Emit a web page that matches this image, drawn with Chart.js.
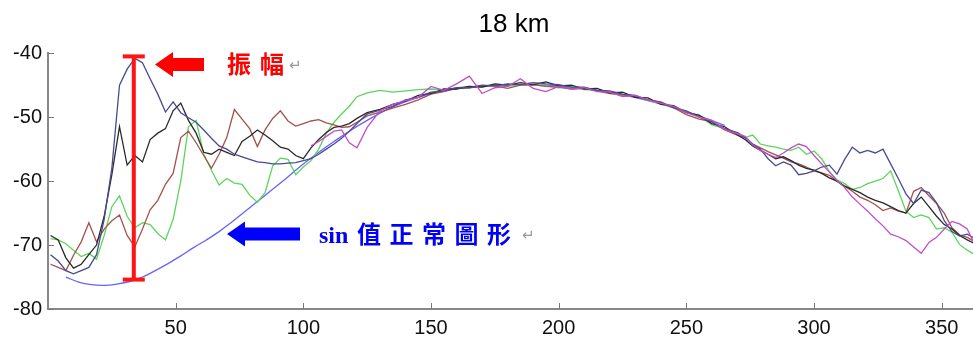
<!DOCTYPE html>
<html>
<head>
<meta charset="utf-8">
<script src="https://cdn.jsdelivr.net/npm/chart.js@4/dist/chart.umd.min.js"></script>
<style>
  html, body { margin: 0; padding: 0; background: #fff; overflow: hidden; }
  #wrap { position: relative; width: 980px; height: 338px; }
</style>
</head>
<body>
<div id="wrap"><canvas id="chart"></canvas></div>
<script>
// day of year for every sample
const days = [
  1, 4, 7, 10, 13, 16, 19, 22, 25, 28, 31, 34, 37, 40, 43, 46, 49, 52, 55, 58,
  61, 64, 67, 70, 73, 76, 79, 82, 85, 88, 91, 94, 97, 100, 103, 106, 109, 112, 115, 118, 121,
  125, 130, 135, 140, 145, 150, 155, 160, 165, 170, 175, 180, 185, 190, 195,
  200, 205, 210, 215, 220, 225, 230, 235, 240, 245, 250, 255, 260, 265, 270,
  273, 276, 279, 282, 285, 288, 291, 294, 297, 300, 303, 306, 309, 312, 315,
  318, 321, 324, 327, 330, 333, 336, 339, 342, 345, 348, 351, 354, 357, 360, 363
];

// measured levels at 18 km, one array per run
const runNavy = [
  -71.5, -72.5, -74, -74.5, -74, -73.5, -71.5, -66, -58, -45, -42.5, -40.8, -41.5, -44, -46.4, -49.2, -47.6, -49.3, -50.1, -50.8,
  -52, -53.3, -54.5, -55, -55.8, -56.2, -56.6, -57, -57.1, -57.3, -57.3, -57.2, -57.1, -56.8, -56.5, -55.8, -55, -54.2, -53.3, -52.2, -51,
  -49.5, -48.9, -48.3, -47.3, -46.9, -46.1, -45.9, -45.4, -45.4, -45, -45.1, -44.8, -44.9, -44.6, -44.8,
  -44.9, -45.3, -45.3, -45.8, -45.9, -46.4, -46.6, -47.3, -47.7, -48.5, -49, -50, -50.7, -51.8, -52.4,
  -53.2, -54.2, -55, -56.5, -57.6, -57, -57.5, -59, -58.8, -58.4, -57.8, -57.5, -58.9, -56.6, -54.7,
  -55.6, -55.2, -55.6, -55, -57.3, -59.6, -62, -63.5, -61.4, -61.8, -63.4, -66.2, -67.9, -68.6, -68.3, -69
];
const runBlack = [
  -68.5, -69.2, -72, -73.6, -73, -71.5, -70, -65.5, -59, -51.5, -57.5, -56, -57, -53.5, -52.5, -51.8, -49, -47.8, -50.5, -52.5,
  -55.5, -55.8, -55, -55.5, -56, -53.8, -53, -52, -52.8, -53.7, -54.7, -55, -56, -56.5, -54.8, -53.5, -52.4, -51.6, -51.4, -51, -50.2,
  -49.3, -48.8, -48, -47.5, -46.6, -46.3, -45.6, -45.6, -45.2, -45.3, -44.8, -45, -44.6, -44.9, -44.5,
  -45.1, -45, -45.6, -45.5, -46.2, -46.1, -46.9, -47, -48, -48.2, -49.3, -49.7, -51, -51.5, -52.8,
  -53.5, -54.5, -55.2, -55.8, -56.5, -56.2, -56.8, -57.5, -58, -58.3, -58.8, -59.5, -60, -60.8, -61.3,
  -61.8, -62.5, -63, -63.4, -64, -64.6, -65, -63.5, -62.5, -64, -65.5, -66.8, -67.5, -68.5, -69.2, -69.8
];
const runBrown = [
  -73, -73.5, -74, -71.6, -69.5, -66.5, -69.5, -67.5, -66.2, -65.3, -68.5, -70.3, -67.5, -64.5, -63, -60.5, -58.8, -53.2, -52.2, -54,
  -56, -58, -55.8, -53.2, -48.8, -50.3, -51.8, -54.6, -52, -50.2, -49, -50.6, -51.4, -51, -50.6, -50.4, -50.9, -51.2, -51.6, -51.5, -50.8,
  -49.8, -49.2, -48.6, -48, -47.3, -46.4, -46, -45.5, -45.4, -45.2, -45.1, -45.5, -45, -44.9, -45.2,
  -45.3, -45.6, -45.5, -45.9, -46.3, -46.5, -46.8, -47.3, -47.6, -48.5, -49.6, -50.3, -50.7, -52, -52.8,
  -53.2, -54.2, -54.8, -55.4, -55.9, -56.4, -57, -57.3, -57.8, -58.4, -58.7, -59.1, -60, -60.8, -61.6,
  -62.5, -63, -63.7, -64.6, -64.2, -64.7, -65, -61.6, -61, -62.3, -63.5, -65, -67.3, -68.4, -68.8, -69.5
];
const runGreen = [
  -69, -69.2, -69.8, -70.8, -71.8, -71.3, -72.2, -68.5, -64, -62.3, -65.5, -67.3, -66.5, -66.8, -68.2, -69.2, -66, -60, -51.5, -50.5,
  -55.8, -58.3, -60.6, -59.6, -60.3, -60.5, -62.2, -63.3, -61.8, -57.6, -56.4, -56.6, -59, -57.8, -56.8, -55, -52.5, -50.8, -49.5, -48.3, -46.8,
  -46.2, -45.8, -46.1, -45.9, -45.7, -45.6, -45.7, -45.4, -45.2, -45.3, -45, -45.2, -44.9, -45, -45.1,
  -45.4, -45.3, -45.7, -45.8, -46.1, -46.6, -46.7, -47.4, -47.9, -48.6, -49.2, -49.8, -51.2, -51.8, -52.5,
  -53.2, -52.8, -54.2, -54.5, -54.7, -55, -55.2, -54.7, -55.8, -55.3, -56.5, -58.5, -59.8, -60.4, -61.3,
  -61, -60.4, -60, -59.6, -58.4, -61.5, -64.7, -65.7, -65.3, -65.7, -67.5, -67.3, -68, -69.9, -70.8, -71.5
];
const runPurple = [
  null, null, null, null, null, null, null, null, null, null, null, null, null, null, null, null, null, null, null, null,
  null, null, null, null, null, null, null, null, null, null, null, null, null, null, -54.5, -53.8, -53, -52.2, -52, -54, -54.8,
  -51.6, -49, -48, -47.4, -46.9, -45.2, -45.8, -44.8, -43.6, -46.3, -45.4, -45.2, -44, -45.5, -46,
  -45.2, -45.6, -45.4, -46, -46.1, -46.8, -46.6, -47.3, -47.8, -48.3, -49.3, -50, -50.5, -51.9, -52.6,
  -53, -54.3, -55.2, -55.8, -56.3, -55.6, -54.8, -54.2, -54.6, -56, -57.3, -58.6, -59.9, -61, -62.5,
  -63.6, -64.7, -65.9, -67, -68.3, -68.7, -69.3, -70.3, -71.3, -69.6, -68.8, -67.5, -66.3, -66.7, -67.5, -70
];

// reference sine curve
const sineDays = [7, 12, 17, 22, 27, 32, 37, 42, 47, 52, 57, 62, 67, 72, 77, 82, 87, 92, 97, 102, 107, 112, 118,
  125, 135, 145, 155, 165, 175, 185, 195, 205, 215, 225, 235, 245, 255, 265];
const sineLevel = [-75, -75.8, -76.2, -76.3, -76.1, -75.7, -75, -74, -72.9, -71.7, -70.4, -69.2, -67.9, -66.4, -64.8,
  -63.2, -61.6, -60, -58.3, -56.7, -55.2, -53.8, -52.2,
  -50.5, -48.4, -46.9, -45.9, -45.3, -45, -44.9, -45, -45.3, -45.8, -46.5, -47.4, -48.5, -49.8, -51.3];

const xTicks = [50, 100, 150, 200, 250, 300, 350];
const yTicks = [-80, -70, -60, -50, -40];

// amplitude marker: day and level range
const ampDay = 33.6;
const ampRange = [-75.4, -40.5];

function pts(xv, yv) {
  return xv.map((x, i) => ({ x: x, y: yv[i] }));
}

function line(data, color, extra) {
  return Object.assign({
    data: data,
    borderColor: color,
    borderWidth: 1.3,
    pointRadius: 0,
    tension: 0,
    fill: false,
    spanGaps: false
  }, extra || {});
}

function arrow(ctx, tipX, y, tailX, color) {
  ctx.fillStyle = color;
  ctx.beginPath();
  ctx.moveTo(tipX, y);
  ctx.lineTo(tipX + 18, y - 12.5);
  ctx.lineTo(tipX + 18, y - 6.5);
  ctx.lineTo(tailX, y - 6.5);
  ctx.lineTo(tailX, y + 6.5);
  ctx.lineTo(tipX + 18, y + 6.5);
  ctx.lineTo(tipX + 18, y + 12.5);
  ctx.closePath();
  ctx.fill();
}

// inward ticks, amplitude bar, arrows and notes
const markup = {
  id: 'markup',
  afterDatasetsDraw(chart) {
    const ctx = chart.ctx;
    const xs = chart.scales.x, ys = chart.scales.y;
    ctx.save();

    ctx.strokeStyle = '#777';
    ctx.lineWidth = 1;
    ctx.beginPath();
    xTicks.forEach(v => {
      const px = Math.round(xs.getPixelForValue(v)) + 0.5;
      ctx.moveTo(px, ys.bottom);
      ctx.lineTo(px, ys.bottom - 6);
    });
    yTicks.forEach(v => {
      const py = Math.round(ys.getPixelForValue(v)) + 0.5;
      ctx.moveTo(xs.left, py);
      ctx.lineTo(xs.left + 6, py);
    });
    ctx.stroke();

    const bx = xs.getPixelForValue(ampDay);
    const top = ys.getPixelForValue(ampRange[1]);
    const bot = ys.getPixelForValue(ampRange[0]);
    ctx.fillStyle = '#ff1414';
    ctx.fillRect(bx - 2, top, 4, bot - top);
    ctx.fillRect(bx - 11, top - 2, 22, 4);
    ctx.fillRect(bx - 11, bot - 2, 22, 4);

    arrow(ctx, 155, 64.5, 204, '#ff0000');
    arrow(ctx, 227, 234, 300, '#0000ff');

    ctx.textBaseline = 'middle';
    ctx.textAlign = 'left';
    ctx.fillStyle = '#ff0000';
    ctx.font = 'bold 24px "Noto Sans CJK TC"';
    ctx.fillText('振', 227, 64);
    ctx.fillText('幅', 260, 64);
    ctx.fillStyle = '#999';
    ctx.font = '15px "DejaVu Sans"';
    ctx.fillText('↵', 289, 66);

    ctx.fillStyle = '#0000ff';
    ctx.font = 'bold 24px "Liberation Serif"';
    ctx.fillText('sin', 319, 237);
    ctx.font = 'bold 24px "Noto Sans CJK TC"';
    ['值', '正', '常', '圖', '形'].forEach((ch, i) => {
      ctx.fillText(ch, 357 + i * 32.5, 234);
    });
    ctx.fillStyle = '#999';
    ctx.font = '15px "DejaVu Sans"';
    ctx.fillText('↵', 522, 236);

    ctx.restore();
  }
};

const ctx = document.getElementById('chart').getContext('2d');
const chart = new Chart(ctx, {
  type: 'line',
  data: {
    datasets: [
      line(pts(days, runPurple), '#c44ccc'),
      line(pts(days, runNavy), '#4a4a92'),
      line(pts(days, runBlack), '#2a2a2a'),
      line(pts(days, runBrown), '#a4524c'),
      line(pts(days, runGreen), '#5ad65a'),
      line(pts(sineDays, sineLevel), '#6464ff', { tension: 0.4 })
    ]
  },
  options: {
    responsive: true,
    maintainAspectRatio: false,
    animation: false,
    layout: { padding: 0 },
    plugins: {
      legend: { display: false },
      tooltip: { enabled: false },
      title: {
        display: true,
        fullSize: false,
        text: '18 km',
        color: '#000',
        font: { family: '"Liberation Sans", Arial, sans-serif', size: 26, weight: 'normal' },
        padding: { top: 9, bottom: 13 }
      }
    },
    scales: {
      x: {
        type: 'linear',
        min: 0,
        max: 365,
        grid: { display: false, drawTicks: false, tickLength: 0 },
        border: { display: true, color: '#888', width: 2 },
        afterBuildTicks: scale => { scale.ticks = xTicks.map(v => ({ value: v })); },
        afterFit: scale => { scale.height = 29; },
        ticks: {
          color: '#111',
          padding: 7,
          maxRotation: 0,
          font: { family: '"Liberation Sans", Arial, sans-serif', size: 20 }
        }
      },
      y: {
        min: -80,
        max: -40,
        grid: { display: false, drawTicks: false, tickLength: 0 },
        border: { display: true, color: '#888', width: 2 },
        afterBuildTicks: scale => { scale.ticks = yTicks.map(v => ({ value: v })); },
        afterFit: scale => { scale.width = 48; },
        ticks: {
          color: '#111',
          padding: 6,
          font: { family: '"Liberation Sans", Arial, sans-serif', size: 20 }
        }
      }
    }
  },
  plugins: [markup]
});
</script>
</body>
</html>
